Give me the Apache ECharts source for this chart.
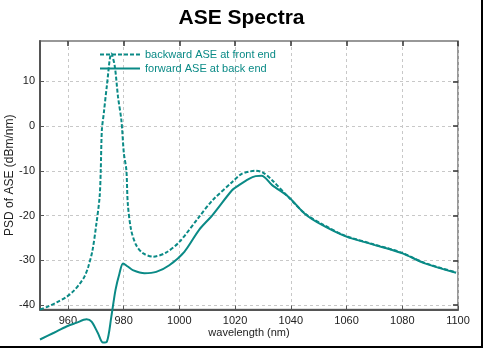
<!DOCTYPE html>
<html><head><meta charset="utf-8">
<script src="https://cdn.jsdelivr.net/npm/echarts@6/dist/echarts.min.js"></script>
<style>html,body{margin:0;padding:0;background:#fff}#c{width:483px;height:348px}</style>
</head><body><div id="c"></div>
<script>
var titleText = 'ASE Spectra';
var xName = 'wavelength (nm)';
var yName = 'PSD of ASE (dBm/nm)';
var xTicks = [960, 980, 1000, 1020, 1040, 1060, 1080, 1100];
var yTicks = [-40, -30, -20, -10, 0, 10];
var backwardName = 'backward ASE at front end';
var forwardName = 'forward ASE at back end';
var backwardX = [950, 953, 956, 959.5, 962, 964.3, 966, 967.3, 968.8, 970.2, 971.4, 971.8, 972.2, 972.9, 974, 975.6, 976.8, 978, 979.2, 980.1, 981, 981.5, 982.7, 984.5, 986.9, 990.5, 995.2, 1000, 1007.1, 1011.9, 1019, 1022.1, 1025, 1027.4, 1030, 1033.3, 1039.3, 1045.2, 1051.2, 1059.5, 1069, 1079.8, 1088.1, 1099.3];
var backwardY = [-41.0, -40.3, -39.4, -38.2, -36.9, -35.2, -33.6, -31.5, -27.9, -22.0, -15.8, -9.9, -0.9, 2.9, 9.0, 16.2, 13.5, 6.5, 1.3, -6.1, -9.9, -17.3, -23.2, -26.6, -28.4, -29.2, -28.3, -25.9, -20.3, -16.6, -12.5, -10.8, -10.2, -10.0, -10.4, -12.1, -16.0, -19.6, -21.9, -24.5, -26.3, -28.3, -30.6, -32.7];
var forwardX = [950, 955, 959.5, 963, 966.7, 968.5, 970.8, 972.6, 974, 975.6, 977.1, 978.5, 979.8, 981.5, 983.3, 987.5, 991.7, 996.4, 1001.8, 1007.1, 1011.9, 1019, 1021.4, 1025, 1027.4, 1029.5, 1033.3, 1039.3, 1045.2, 1051.2, 1059.5, 1069, 1079.8, 1088.1, 1099.3];
var forwardY = [-47.7, -46.2, -44.8, -44.0, -43.2, -43.7, -46.3, -48.4, -48.2, -42.6, -36.6, -33.0, -30.7, -31.4, -32.2, -32.9, -32.6, -31.1, -28.1, -23.2, -19.9, -14.3, -13.2, -11.8, -11.2, -11.1, -13.2, -15.9, -19.7, -22.1, -24.6, -26.4, -28.4, -30.7, -32.8];

function pairs(xs, ys) { return xs.map(function (x, i) { return [x, ys[i]]; }); }
function plain(v) { return String(v); }
var teal = '#0a8a86';
var chart = echarts.init(document.getElementById('c'), null, {renderer: 'canvas'});
var font = 'Arial, "Liberation Sans", sans-serif';
chart.setOption({
  animation: false,
  backgroundColor: '#fff',
  title: {text: titleText, left: 'center', top: 3, textStyle: {fontFamily: font, fontSize: 21, fontWeight: 'bold', color: '#000'}},
  grid: {left: 40, right: 25, top: 41, bottom: 38.5, containLabel: false, outerBoundsMode: 'none', show: true, borderColor: '#777', borderWidth: 1.5},
  legend: {
    left: 94, top: 44, orient: 'vertical', itemGap: 3, itemWidth: 40, itemHeight: 12,
    itemStyle: {opacity: 0},
    textStyle: {fontFamily: font, fontSize: 11, color: teal},
    data: [backwardName, forwardName]
  },
  xAxis: [{
    type: 'value', min: 950, max: 1100, position: 'bottom',
    name: xName, nameLocation: 'middle', nameGap: 18, nameMoveOverlap: false,
    nameTextStyle: {fontFamily: font, fontSize: 11, color: '#222'},
    axisLine: {show: true, onZero: false, lineStyle: {color: '#555', width: 2}},
    axisTick: {show: true, inside: true, length: 4, customValues: xTicks, lineStyle: {color: '#555'}},
    axisLabel: {customValues: xTicks, formatter: plain, fontFamily: font, fontSize: 11, color: '#222', margin: 6},
    splitLine: {show: true, lineStyle: {color: '#c8c8c8', type: [3, 3], width: 1}}
  }, {
    type: 'value', min: 950, max: 1100, position: 'top',
    axisLine: {show: false, onZero: false},
    axisTick: {show: true, inside: true, length: 5, customValues: xTicks, lineStyle: {color: '#333', width: 1.5}},
    axisLabel: {show: false}, splitLine: {show: false}
  }],
  yAxis: [{
    type: 'value', min: -41, max: 19, position: 'left',
    name: yName, nameLocation: 'middle', nameGap: 24, nameMoveOverlap: false,
    nameTextStyle: {fontFamily: font, fontSize: 12, color: '#222'},
    axisLine: {show: true, onZero: false, lineStyle: {color: '#555', width: 2}},
    axisTick: {show: true, inside: true, length: 4, customValues: yTicks, lineStyle: {color: '#555'}},
    axisLabel: {customValues: yTicks, formatter: plain, fontFamily: font, fontSize: 11, color: '#222', margin: 5},
    splitLine: {show: true, lineStyle: {color: '#c8c8c8', type: [3, 3], width: 1}}
  }, {
    type: 'value', min: -41, max: 19, position: 'right',
    axisLine: {show: false, onZero: false},
    axisTick: {show: true, inside: true, length: 5, customValues: yTicks, lineStyle: {color: '#333', width: 1.5}},
    axisLabel: {show: false}, splitLine: {show: false}
  }],
  graphic: [
    {type: 'line', shape: {x1: 482, y1: 0, x2: 482, y2: 348}, style: {stroke: '#000', lineWidth: 2}},
    {type: 'line', shape: {x1: 0, y1: 347, x2: 483, y2: 347}, style: {stroke: '#000', lineWidth: 2}}
  ],
  series: [{
    name: backwardName, type: 'line', data: pairs(backwardX, backwardY), showSymbol: false, symbol: 'none',
    clip: false, smooth: 0.3, lineStyle: {color: teal, width: 2, type: [4, 2]}, itemStyle: {color: teal}
  }, {
    name: forwardName, type: 'line', data: pairs(forwardX, forwardY), showSymbol: false, symbol: 'none',
    clip: false, smooth: 0.3, lineStyle: {color: teal, width: 2}, itemStyle: {color: teal}
  }]
});
</script></body></html>
